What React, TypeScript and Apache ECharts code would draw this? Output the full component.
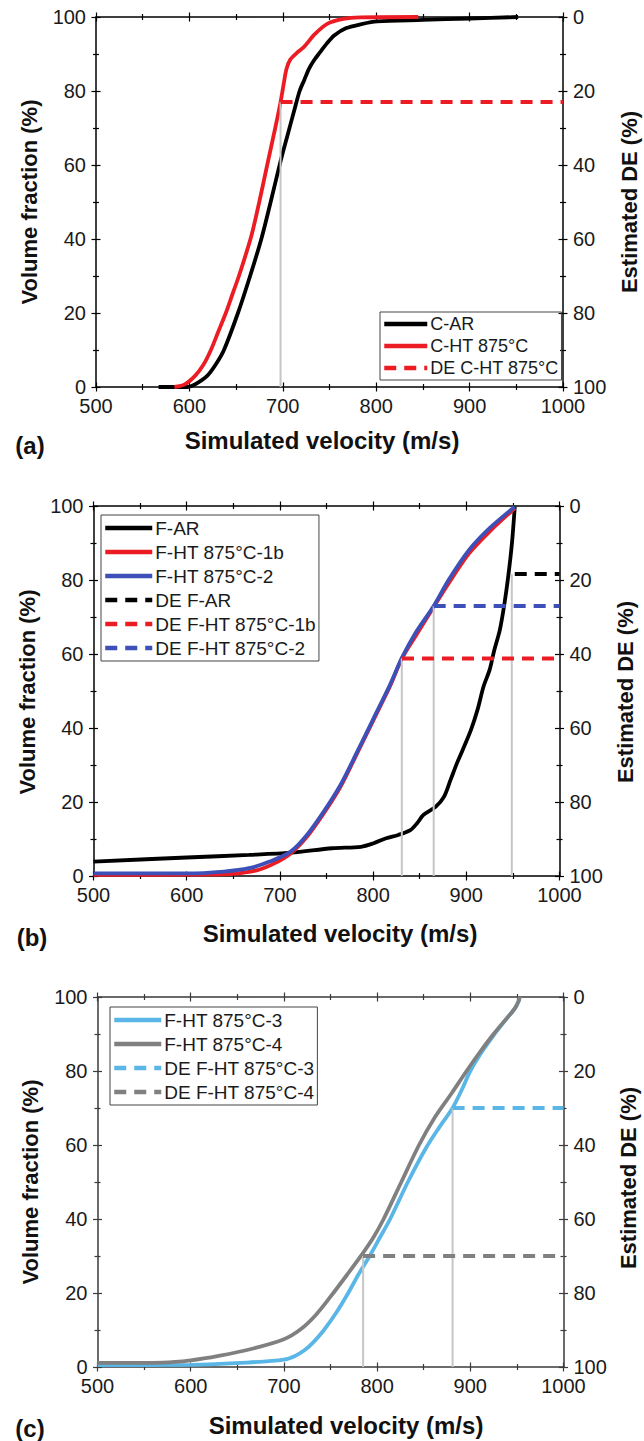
import React, { useEffect, useRef } from "react";
import * as echarts from "echarts";

// ---------- DATA ----------
// Panel (a): [velocity m/s, volume fraction %]
const cAR: [number, number][] = [
  [567, 0], [598, 0], [606, 0.7], [619, 3], [628, 6], [637, 10], [652, 20], [665, 30], [677, 40],
  [687, 50], [697.6, 61], [705, 68], [712, 74.5], [718, 80], [723, 83], [728, 86], [734, 88.5],
  [740, 90.5], [747, 92.8], [755, 95], [768, 97], [783, 98], [801, 98.8], [850, 99.2],
  [900, 99.6], [952, 100],
];
const cHT875: [number, number][] = [
  [584, 0], [595, 0.7], [606, 3], [615, 6], [623, 10], [631, 15], [639, 20], [646, 25],
  [653, 30], [660, 35.5], [666.5, 41], [674.8, 50], [683.3, 60], [691.9, 70], [697.6, 77],
  [701, 82], [704, 86], [708, 88.5], [715, 90.3], [723, 92], [734, 95.3], [748, 98.2],
  [765, 99.5], [783, 99.9], [845, 100],
];
// Panel (b)
const fAR: [number, number][] = [
  [500, 3.9], [600, 5.0], [667, 5.7], [712, 6.3], [756, 7.5], [787, 7.9], [800, 8.8],
  [814, 10.2], [827, 11.1], [840, 12.4], [847, 14.2], [854, 16.5], [867, 18.7], [876, 21.4],
  [883, 25.9], [890, 30.5], [896, 34], [905, 39.5], [912, 44.9], [918.5, 51.2], [925, 55.7],
  [930, 61], [936, 66.5], [941, 73.7], [945, 81], [949, 90], [952, 99.8],
];
const fHT1b: [number, number][] = [
  [500, 0.3], [620, 0.4], [649, 0.6], [676, 1.6], [694, 3.4], [711.5, 6.1], [729, 10.6],
  [747, 16.9], [765, 24.1], [783, 33.2], [800.5, 42.2], [818, 51.2], [831, 58.8], [845, 64.6],
  [863, 71.9], [881, 79.1], [903, 87.2], [925, 93.1], [952, 99.4],
];
const fHT2: [number, number][] = [
  [500, 0.7], [600, 0.7], [640, 1.2], [667, 2.1], [689, 3.9], [711.5, 6.6], [729, 11.1],
  [747, 17.4], [765, 24.6], [783, 33.6], [800.5, 42.6], [818, 51.6], [831, 59], [845, 65.5],
  [865, 73], [881, 80], [903, 88.1], [925, 94], [952, 99.8],
];
// Panel (c)
const fHT3: [number, number][] = [
  [500, 0.5], [600, 0.6], [660, 1.2], [700, 2.0], [712, 3.0], [722, 4.5], [732, 6.8],
  [743, 10], [757, 15], [769, 20], [780, 25], [792, 30], [803, 35], [814, 40], [833, 50],
  [852, 59], [866, 64.5], [881, 70], [891, 75], [900, 80], [912, 85], [926, 90], [940, 94.5],
  [948, 97], [952, 99], [953, 100],
];
const fHT4: [number, number][] = [
  [500, 1.1], [570, 1.2], [600, 1.8], [630, 3.0], [667, 5.0], [700, 7.5], [718, 10.2],
  [734, 14], [750, 19], [768, 25], [784, 30.5], [796, 35], [807, 40], [826, 50], [845, 60],
  [862, 67.5], [880, 74], [896, 80], [910, 85], [925, 90], [940, 94.5], [948, 97],
  [952, 99], [953, 100],
];
// Drop lines: [velocity, volume fraction reached]
const guidesA: [number, number][] = [[697.6, 77]];
const guidesB: [number, number][] = [[830.8, 58.8], [865, 73], [948.8, 81.6]];
const guidesC: [number, number][] = [[785, 30], [881, 70]];
// Estimated DE (%) levels: [start velocity, DE]
const deCHT875: [number, number] = [697.6, 23];
const deFAR: [number, number] = [952, 18.4];
const deFHT1b: [number, number] = [831, 41.2];
const deFHT2: [number, number] = [865, 27];
const deFHT3: [number, number] = [881, 30];
const deFHT4: [number, number] = [785, 70];

const X_TICKS = { min: 500, max: 1000, interval: 100 };
const Y_TICKS = { min: 0, max: 100, interval: 20 };

// ---------- STYLE ----------
const FONT = '"Liberation Sans", Arial, Helvetica, sans-serif';
const RED = "#ec1c24";
const BLUE = "#3c50b8";
const LBLUE = "#5ab6e6";
const GRAY = "#808080";
const GUIDE = "#c6c6c6";

const grids = [
  { left: 96, width: 467, top: 17, height: 370, axis: "#000" },
  { left: 93.5, width: 466, top: 506, height: 370, axis: "#000" },
  { left: 97.5, width: 466, top: 997, height: 370, axis: "#3a3a3a" },
];

const plain = (v: number) => String(v);

function xAxesFor(g: number, color: string) {
  const base: any = {
    type: "value",
    gridIndex: g,
    ...X_TICKS,
    splitLine: { show: false },
    axisLine: { onZero: false, lineStyle: { color, width: 1.5 } },
    minorTick: { show: true, splitNumber: 2, length: 3, lineStyle: { color, width: 1.2 } },
    axisLabel: { show: false },
  };
  const tick = (inside: boolean) => ({ show: true, inside, length: 4.5, lineStyle: { color, width: 1.2 } });
  return [
    {
      ...base,
      position: "bottom",
      axisTick: tick(false),
      axisLabel: { show: true, margin: 9, fontSize: 20, color: "#1a1a1a", fontFamily: FONT, formatter: plain },
    },
    { ...base, position: "bottom", axisLine: { show: false, onZero: false }, axisTick: tick(true) },
    { ...base, position: "top", axisTick: tick(false) },
    { ...base, position: "top", axisLine: { show: false, onZero: false }, axisTick: tick(true) },
  ];
}

function yAxesFor(g: number, color: string) {
  const base: any = {
    type: "value",
    gridIndex: g,
    ...Y_TICKS,
    splitLine: { show: false },
    axisLine: { onZero: false, lineStyle: { color, width: 1.5 } },
    minorTick: { show: true, splitNumber: 2, length: 3, lineStyle: { color, width: 1.2 } },
    axisLabel: { show: false },
  };
  const tick = (inside: boolean) => ({ show: true, inside, length: 4.5, lineStyle: { color, width: 1.2 } });
  const label = { show: true, margin: 10, fontSize: 20, color: "#1a1a1a", fontFamily: FONT, formatter: plain };
  return [
    { ...base, position: "left", axisTick: tick(false), axisLabel: label },
    { ...base, position: "left", axisLine: { show: false, onZero: false }, axisTick: tick(true) },
    { ...base, position: "right", inverse: true, axisTick: tick(false), axisLabel: label },
    { ...base, position: "right", inverse: true, axisLine: { show: false, onZero: false }, axisTick: tick(true) },
  ];
}

function curve(name: string, data: [number, number][], g: number, color: string, width = 3.8) {
  return {
    type: "line",
    name,
    xAxisIndex: g * 4,
    yAxisIndex: g * 4,
    data,
    symbol: "none",
    smooth: 0.3,
    lineStyle: { color, width },
    itemStyle: { color },
    z: 2,
  };
}

function guides(list: [number, number][], g: number) {
  return list.map(([x, top]) => ({
    type: "line",
    xAxisIndex: g * 4,
    yAxisIndex: g * 4,
    data: [[x, 0], [x, top]],
    symbol: "none",
    lineStyle: { color: GUIDE, width: 2 },
    silent: true,
    z: 3,
  }));
}

function deLine(name: string, de: [number, number], g: number, color: string) {
  return {
    type: "line",
    name,
    xAxisIndex: g * 4,
    yAxisIndex: g * 4 + 2,
    data: [[de[0], de[1]], [X_TICKS.max, de[1]]],
    symbol: "none",
    lineStyle: { color, width: 4, type: [12, 8] },
    itemStyle: { color },
    z: 4,
  };
}

function legendFor(names: string[], left: number, top: number, itemWidth: number, fontSize: number, lineHeight: number) {
  return {
    data: names,
    orient: "vertical",
    left,
    top,
    itemWidth,
    itemHeight: 12,
    itemGap: 2,
    padding: [2, 3, 2, 2],
    borderColor: "#444",
    borderWidth: 1,
    selectedMode: false,
    itemStyle: { opacity: 0, color: "rgba(0,0,0,0)", borderWidth: 0 },
    lineStyle: { width: 4.5 },
    textStyle: { fontSize, fontFamily: FONT, color: "#1a1a1a", lineHeight, padding: [0, 0, 0, -2] },
  };
}

function text(t: string, x: number, y: number, size: number, rotate = false): any {
  return {
    type: "text",
    x,
    y,
    rotation: rotate ? Math.PI / 2 : 0,
    style: {
      text: t,
      fontSize: size,
      fontWeight: "bold",
      fontFamily: FONT,
      fill: "#111",
      align: "center",
      verticalAlign: "middle",
    },
  };
}

export default function App() {
  const ref = useRef<HTMLDivElement>(null);
  useEffect(() => {
    if (!ref.current) return;
    const chart = echarts.init(ref.current, undefined, { renderer: "svg" });
    const option: any = {
      animation: false,
      backgroundColor: "#fff",
      grid: grids.map((g) => ({ left: g.left, width: g.width, top: g.top, height: g.height })),
      xAxis: [...xAxesFor(0, grids[0].axis), ...xAxesFor(1, grids[1].axis), ...xAxesFor(2, grids[2].axis)],
      yAxis: [...yAxesFor(0, grids[0].axis), ...yAxesFor(1, grids[1].axis), ...yAxesFor(2, grids[2].axis)],
      legend: [
        legendFor(["C-AR", "C-HT 875°C", "DE C-HT 875°C"], 380, 312, 43, 18, 20),
        legendFor(
          ["F-AR", "F-HT 875°C-1b", "F-HT 875°C-2", "DE F-AR", "DE F-HT 875°C-1b", "DE F-HT 875°C-2"],
          101, 515, 47, 19, 22
        ),
        legendFor(["F-HT 875°C-3", "F-HT 875°C-4", "DE F-HT 875°C-3", "DE F-HT 875°C-4"], 110, 1007, 47, 19, 22),
      ],
      series: [
        curve("C-AR", cAR, 0, "#000"),
        curve("C-HT 875°C", cHT875, 0, RED),
        ...guides(guidesA, 0),
        deLine("DE C-HT 875°C", deCHT875, 0, RED),

        curve("F-AR", fAR, 1, "#000"),
        curve("F-HT 875°C-1b", fHT1b, 1, RED),
        curve("F-HT 875°C-2", fHT2, 1, BLUE),
        ...guides(guidesB, 1),
        deLine("DE F-AR", deFAR, 1, "#000"),
        deLine("DE F-HT 875°C-1b", deFHT1b, 1, RED),
        deLine("DE F-HT 875°C-2", deFHT2, 1, BLUE),

        curve("F-HT 875°C-3", fHT3, 2, LBLUE),
        curve("F-HT 875°C-4", fHT4, 2, GRAY),
        ...guides(guidesC, 2),
        deLine("DE F-HT 875°C-3", deFHT3, 2, LBLUE),
        deLine("DE F-HT 875°C-4", deFHT4, 2, GRAY),
      ],
      graphic: [
        text("Volume fraction (%)", 29, 202, 22, true),
        text("Estimated DE (%)", 629, 202, 22, true),
        text("Simulated velocity (m/s)", 322, 440, 24),
        text("(a)", 30, 445, 24),

        text("Volume fraction (%)", 27, 692, 22, true),
        text("Estimated DE (%)", 625, 692, 22, true),
        text("Simulated velocity (m/s)", 340, 933, 24),
        text("(b)", 32, 937, 24),

        text("Volume fraction (%)", 30, 1182, 22, true),
        text("Estimated DE (%)", 628, 1178, 22, true),
        text("Simulated velocity (m/s)", 346, 1425, 24),
        text("(c)", 30, 1428, 24),
      ],
    };
    chart.setOption(option);
    return () => chart.dispose();
  }, []);
  return (
    <div
      ref={ref}
      style={{ position: "absolute", left: 0, top: 0, width: 644, height: 1441, background: "#fff" }}
    />
  );
}
